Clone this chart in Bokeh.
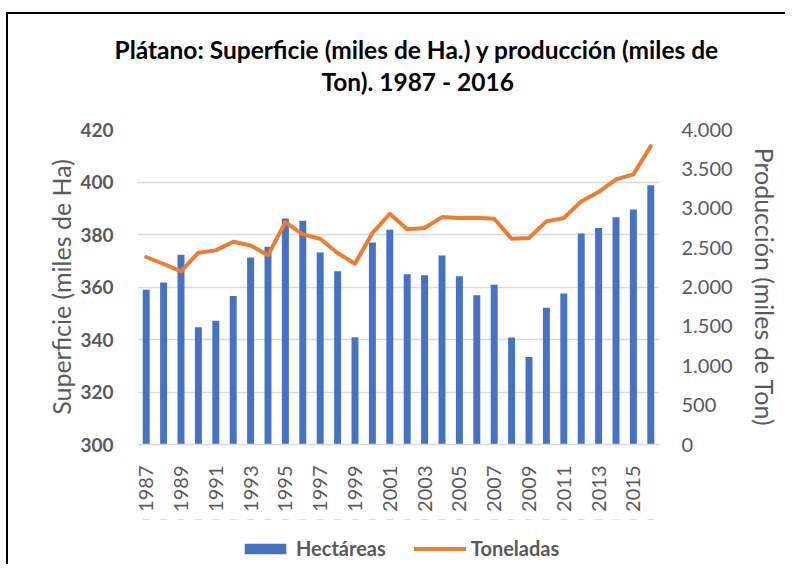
from bokeh.plotting import figure
from bokeh.layouts import column
from bokeh.models import (Range1d, LinearAxis, FixedTicker, Title, Legend, LegendItem,
                          CustomJSTickFormatter)
from bokeh.embed import file_html
from bokeh.resources import INLINE
import math

# ---------------- data ----------------
years = list(range(1987, 2017))
hectareas = [359.0, 361.7, 372.3, 344.7, 347.1, 356.6, 371.2, 375.3, 386.1, 385.2,
             373.1, 366.0, 340.9, 377.0, 381.8, 364.9, 364.5, 372.0, 364.1, 356.9,
             360.9, 340.8, 333.3, 352.1, 357.5, 380.4, 382.5, 386.6, 389.5, 398.8]
toneladas = [2381, 2292, 2199, 2436, 2465, 2575, 2528, 2402, 2825, 2668,
             2613, 2432, 2296, 2685, 2930, 2732, 2749, 2888, 2876, 2880,
             2867, 2613, 2622, 2833, 2876, 3087, 3205, 3366, 3430, 3789]
x_tick_years = list(range(1987, 2016, 2))
left_ticks = [300, 320, 340, 360, 380, 400, 420]
right_ticks = [0, 500, 1000, 1500, 2000, 2500, 3000, 3500, 4000]
title_line1 = "Plátano: Superficie (miles de Ha.) y producción (miles de"
title_line2 = "Ton). 1987 - 2016"

FONT = "Lato"
GRAY = "#595959"
BLUE = "#4472C4"
ORANGE = "#ED7D31"
TOTAL_W = 777

p = figure(output_backend="svg", toolbar_location=None,
           x_range=Range1d(1986.5, 2016.5), y_range=Range1d(300, 420),
           frame_width=522, frame_height=315,
           min_border_left=129, min_border_right=126, min_border_top=115,
           min_border_bottom=75, title=None)
p.outline_line_color = None
p.background_fill_color = "white"
p.border_fill_color = "white"

p.extra_y_ranges = {"ton": Range1d(0, 4000)}

bar_kw = dict(width=0.4, fill_color=BLUE, line_color=None)
line_kw = dict(line_color=ORANGE, line_width=4, line_join="round", line_cap="round")

p.vbar(x=years, top=hectareas, bottom=p.y_range.start, **bar_kw)
p.line(x=years, y=toneladas, y_range_name="ton", **line_kw)

# axes
xa = p.xaxis[0]
xa.ticker = FixedTicker(ticks=x_tick_years)
xa.major_label_orientation = math.pi / 2
xa.major_tick_line_color = None
xa.major_tick_out = 0
xa.major_tick_in = 0
xa.minor_tick_line_color = None
xa.axis_line_color = "#D9D9D9"
xa.axis_line_width = 1.5
xa.major_label_text_font = FONT
xa.major_label_text_font_size = "20px"
xa.major_label_text_color = GRAY
xa.major_label_standoff = 21

ya = p.yaxis[0]
ya.ticker = FixedTicker(ticks=left_ticks)
ya.major_tick_line_color = None
ya.major_tick_out = 0
ya.major_tick_in = 0
ya.minor_tick_line_color = None
ya.axis_line_color = None
ya.major_label_text_font = FONT
ya.major_label_text_font_size = "19px"
ya.major_label_text_font_style = "bold"
ya.major_label_text_color = GRAY
ya.major_label_standoff = 24
ya.axis_label = "Superficie (miles de Ha)"
ya.axis_label_text_font = FONT
ya.axis_label_text_font_size = "25px"
ya.axis_label_text_font_style = "normal"
ya.axis_label_text_color = GRAY
ya.axis_label_standoff = 1

ra = LinearAxis(y_range_name="ton", ticker=FixedTicker(ticks=right_ticks))
ra.formatter = CustomJSTickFormatter(code=r"return Math.round(tick).toString().replace(/\B(?=(\d{3})+(?!\d))/g, '.');")
ra.major_tick_line_color = None
ra.major_tick_out = 0
ra.major_tick_in = 0
ra.minor_tick_line_color = None
ra.axis_line_color = None
ra.major_label_text_font = FONT
ra.major_label_text_font_size = "20px"
ra.major_label_text_color = GRAY
ra.major_label_standoff = 22
ra.axis_label = "Producción (miles de Ton)"
ra.axis_label_text_font = FONT
ra.axis_label_text_font_size = "25px"
ra.axis_label_text_font_style = "normal"
ra.axis_label_text_color = GRAY
ra.axis_label_standoff = 14
p.add_layout(ra, "right")

p.xgrid.grid_line_color = None
p.ygrid.grid_line_color = "#D9D9D9"
p.ygrid.grid_line_width = 1.5
p.ygrid.ticker = FixedTicker(ticks=left_ticks)

# titles (first added is nearest the plot); a blank spacer keeps the gap to the frame
spacer = Title(text=" ", text_font=FONT, text_font_size="24.5px", standoff=1)
t2 = Title(text=title_line2, align="left", text_font=FONT, text_font_size="24.5px",
           text_font_style="bold", text_color="black", standoff=3, offset=184)
t1 = Title(text=title_line1, align="left", text_font=FONT, text_font_size="24.5px",
           text_font_style="bold", text_color="black", standoff=-1, offset=-23)
p.add_layout(spacer, "above")
p.add_layout(t2, "above")
p.add_layout(t1, "above")

# legend strip: same series, drawn on a range where they stay out of view
pl = figure(width=TOTAL_W, height=45, output_backend="svg", toolbar_location=None,
            x_range=Range1d(1986.5, 2016.5), y_range=Range1d(0, 1),
            min_border=0, title=None)
pl.axis.visible = False
pl.grid.visible = False
pl.outline_line_color = None
pl.border_fill_alpha = 0
pl.background_fill_alpha = 0
pl.extra_y_ranges = {"ton": Range1d(0, 1)}
leg_bars = pl.vbar(x=years, top=hectareas, bottom=p.y_range.start, **bar_kw)
leg_line = pl.line(x=years, y=toneladas, y_range_name="ton", **line_kw)

legend = Legend(items=[LegendItem(label="Hectáreas", renderers=[leg_bars]),
                       LegendItem(label="Toneladas", renderers=[leg_line])],
                orientation="horizontal", location=(102, 4),
                label_text_font=FONT, label_text_font_size="20px",
                label_text_font_style="bold", label_text_color=GRAY,
                glyph_width=52, glyph_height=13, label_standoff=5,
                spacing=28, padding=0, margin=0,
                border_line_color=None, background_fill_alpha=0)
pl.add_layout(legend, "center")

layout = column(p, pl, spacing=0)
layout.styles = {"border-top": "2px solid black", "border-left": "2px solid black",
                 "margin-top": "12px", "margin-left": "6px"}

open("out.html", "w").write(file_html(layout, INLINE))
